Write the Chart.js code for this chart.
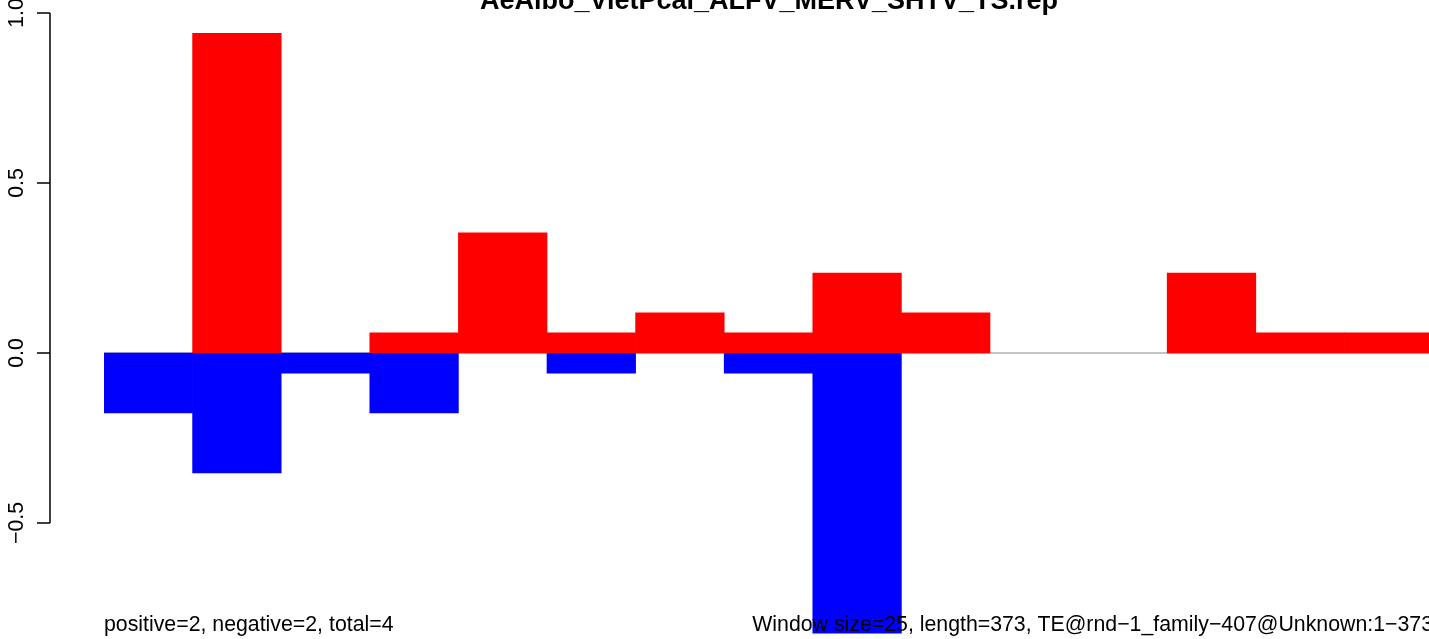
<!DOCTYPE html>
<html>
<head>
<meta charset="utf-8">
<script src="https://cdn.jsdelivr.net/npm/chart.js@4/dist/chart.umd.min.js"></script>
<style>
  html, body { margin: 0; padding: 0; background: #fff; overflow: hidden; }
  canvas { display: block; }
</style>
</head>
<body>
<canvas id="barChart" width="1433" height="639"></canvas>
<script>
// windows of 25 bp along the TE (15 windows)
const windows = ["1","2","3","4","5","6","7","8","9","10","11","12","13","14","15"];
const positive = [0, 0.94, 0, 0.059, 0.353, 0.059, 0.118, 0.059, 0.235, 0.118, 0, 0, 0.235, 0.059, 0.059];
const negative = [-0.176, -0.353, -0.059, -0.176, 0, -0.059, 0, -0.059, -0.824, 0, 0, 0, 0, 0, 0];
const yTicks = [-0.5, 0, 0.5, 1];
const yTickLabels = ["\u22120.5", "0.0", "0.5", "1.0"];

const chartTitle = "AeAlbo_VietPcal_ALFV_MERV_SHTV_TS.rep";
const footLeft = "positive=2, negative=2, total=4";
const footRight = "Window size=25, length=373, TE@rnd\u22121_family\u2212407@Unknown:1\u2212373";

const FONT = '"Liberation Sans", Arial, Helvetica, sans-serif';

// empty windows draw nothing
const noZero = arr => arr.map(v => (v === 0 ? null : v));

// zero line, drawn under the bars
const zeroLine = {
  id: "zeroLine",
  beforeDatasetsDraw(chart) {
    const { ctx, chartArea, scales } = chart;
    const y0 = scales.y.getPixelForValue(0);
    ctx.save();
    ctx.strokeStyle = "#8c8c8c";
    ctx.lineWidth = 1.2;
    ctx.beginPath();
    ctx.moveTo(chartArea.left, y0);
    ctx.lineTo(chartArea.right, y0);
    ctx.stroke();
    ctx.restore();
  }
};

// R-style y axis, title and footer texts
const decorations = {
  id: "decorations",
  afterDraw(chart) {
    const { ctx, scales } = chart;
    const y = scales.y;
    const axisX = 50;
    ctx.save();
    ctx.strokeStyle = "#000";
    ctx.lineWidth = 1.5;
    ctx.beginPath();
    ctx.moveTo(axisX, y.getPixelForValue(yTicks[yTicks.length - 1]));
    ctx.lineTo(axisX, y.getPixelForValue(yTicks[0]));
    yTicks.forEach(v => {
      const py = y.getPixelForValue(v);
      ctx.moveTo(axisX, py);
      ctx.lineTo(37, py);
    });
    ctx.stroke();

    ctx.fillStyle = "#000";
    ctx.font = "21.3px " + FONT;
    ctx.textAlign = "center";
    ctx.textBaseline = "alphabetic";
    yTicks.forEach((v, i) => {
      const py = y.getPixelForValue(v);
      ctx.save();
      ctx.translate(23, py);
      ctx.rotate(-Math.PI / 2);
      ctx.fillText(yTickLabels[i], 0, 0);
      ctx.restore();
    });

    ctx.font = "bold 27px " + FONT;
    ctx.textAlign = "center";
    ctx.fillText(chartTitle, 769, 9);

    ctx.font = "21.3px " + FONT;
    ctx.textAlign = "left";
    ctx.fillText(footLeft, 104, 631);
    ctx.textAlign = "right";
    ctx.fillText(footRight, 1433, 631);
    ctx.restore();
  }
};

new Chart(document.getElementById("barChart"), {
  type: "bar",
  data: {
    labels: windows,
    datasets: [
      {
        label: "positive",
        data: noZero(positive),
        backgroundColor: "#ff0000",
        borderWidth: 0,
        barPercentage: 1,
        categoryPercentage: 1
      },
      {
        label: "negative",
        data: noZero(negative),
        backgroundColor: "#0000ff",
        borderWidth: 0,
        barPercentage: 1,
        categoryPercentage: 1
      }
    ]
  },
  options: {
    responsive: false,
    animation: false,
    layout: { padding: { left: 104, right: 0, top: 0, bottom: 0 } },
    scales: {
      x: { display: false, stacked: true, offset: true },
      y: { display: false, stacked: false, min: -0.841, max: 1.038 }
    },
    plugins: {
      legend: { display: false },
      title: { display: false },
      tooltip: { enabled: false }
    }
  },
  plugins: [zeroLine, decorations]
});
</script>
</body>
</html>
